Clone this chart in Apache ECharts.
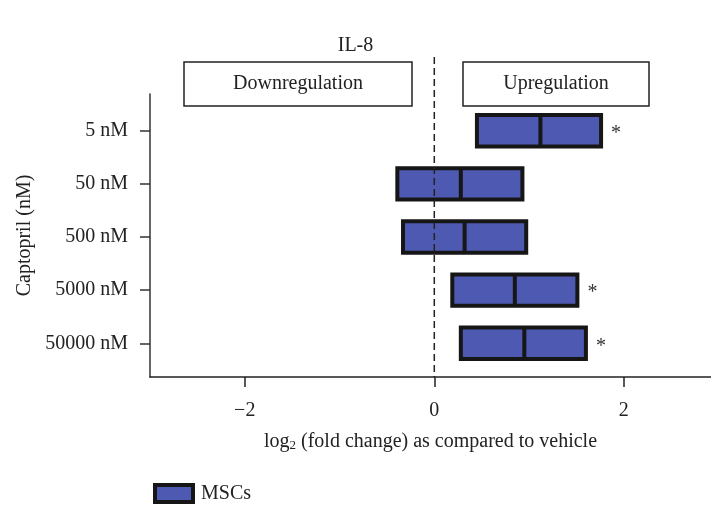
<!DOCTYPE html>
<html>
<head>
<meta charset="utf-8">
<script src="https://cdn.jsdelivr.net/npm/echarts@6/dist/echarts.min.js"></script>
<style>html,body{margin:0;padding:0;background:#fff;}#c{width:711px;height:506px;}</style>
</head>
<body>
<div id="c"></div>
<script>
const categories = ['5 nM', '50 nM', '500 nM', '5000 nM', '50000 nM'];
const lowValues = [0.45, -0.39, -0.33, 0.19, 0.28];
const medianValues = [1.12, 0.28, 0.32, 0.85, 0.95];
const highValues = [1.76, 0.93, 0.97, 1.51, 1.60];
const significance = ['*', '', '', '*', '*'];
const xTicks = [-2, 0, 2];
const yTicks = [0, 1, 2, 3, 4];

const FONT = "'Liberation Serif', 'DejaVu Serif', serif";
const FILL = '#4e5ab1';
const EDGE = '#161616';

const data = categories.map((c, i) => [i, lowValues[i], medianValues[i], highValues[i], significance[i]]);

const chart = echarts.init(document.getElementById('c'), null, {renderer: 'canvas'});

function renderItem(params, api) {
  const y = api.value(0);
  const pLow = api.coord([api.value(1), y]);
  const pMed = api.coord([api.value(2), y]);
  const pHigh = api.coord([api.value(3), y]);
  const h = api.size([0, 0.59])[1];
  const top = pLow[1] - h / 2;
  const sig = significance[y];
  const children = [
    {type: 'rect', shape: {x: pLow[0], y: top, width: pHigh[0] - pLow[0], height: h},
     style: {fill: FILL, stroke: EDGE, lineWidth: 4}},
    {type: 'line', shape: {x1: pMed[0], y1: top, x2: pMed[0], y2: top + h},
     style: {stroke: EDGE, lineWidth: 4}}
  ];
  if (sig) {
    children.push({type: 'text', x: pHigh[0] + 15, y: pLow[1] + 3,
      style: {text: sig, font: '20px ' + FONT, fill: '#333', align: 'center', verticalAlign: 'middle'}});
  }
  return {type: 'group', children: children};
}

const option = {
  animation: false,
  backgroundColor: '#fff',
  title: {
    text: 'IL-8', left: 'center', top: 31,
    textStyle: {fontFamily: FONT, fontSize: 20, fontWeight: 'normal', color: '#222'}
  },
  legend: {
    left: 148, top: 478,
    itemWidth: 38, itemHeight: 17, itemGap: 10,
    textStyle: {fontFamily: FONT, fontSize: 20, color: '#222', padding: [0, 0, 0, 3]},
    data: [{name: 'MSCs', icon: 'rect', itemStyle: {color: FILL, borderColor: EDGE, borderWidth: 4}}]
  },
  grid: {left: 150, right: 0, top: 94, bottom: 129, containLabel: false},
  xAxis: {
    type: 'value', min: -3, max: 2.92,
    axisLine: {show: true, onZero: false, lineStyle: {color: '#222', width: 1.5}},
    axisTick: {show: true, customValues: xTicks, length: 10, lineStyle: {color: '#222', width: 1.5}},
    axisLabel: {customValues: xTicks, margin: 24, fontFamily: FONT, fontSize: 20, color: '#222',
      formatter: v => (v < 0 ? '\u2212' + Math.abs(v) : String(v))},
    splitLine: {show: false},
    name: 'log{sub|2} (fold change) as compared to vehicle',
    nameLocation: 'middle', nameGap: 54,
    nameTextStyle: {fontFamily: FONT, fontSize: 20, color: '#222',
      rich: {sub: {fontFamily: FONT, fontSize: 13, verticalAlign: 'bottom', padding: [8, 0, 0, 0], color: '#222'}}}
  },
  yAxis: {
    type: 'value', inverse: true, min: -0.6906, max: 4.634,
    axisLine: {show: true, onZero: false, lineStyle: {color: '#333', width: 1.5}},
    axisTick: {show: true, customValues: yTicks, length: 10, lineStyle: {color: '#333', width: 1.5}},
    axisLabel: {customValues: yTicks, margin: 22, fontFamily: FONT, fontSize: 20, color: '#222',
      formatter: v => categories[Math.round(v)]},
    splitLine: {show: false},
    name: 'Captopril (nM)', nameLocation: 'middle', nameGap: 114, nameRotate: 90,
    nameTextStyle: {fontFamily: FONT, fontSize: 20, color: '#222'}
  },
  series: [{
    name: 'MSCs', type: 'custom', renderItem: renderItem,
    itemStyle: {color: FILL, borderColor: EDGE, borderWidth: 4},
    encode: {x: [1, 2, 3], y: 0},
    data: data, z: 2
  }]
};
chart.setOption(option);

const x0 = chart.convertToPixel({xAxisIndex: 0}, 0);
const yBottom = chart.convertToPixel({yAxisIndex: 0}, 4.634);
function box(x1, x2, label) {
  return [
    {type: 'rect', shape: {x: x1, y: 62, width: x2 - x1, height: 44},
     style: {fill: '#fff', stroke: '#222', lineWidth: 1.5}, z: 10},
    {type: 'text', x: (x1 + x2) / 2, y: 84,
     style: {text: label, font: '20px ' + FONT, fill: '#222', align: 'center', verticalAlign: 'middle'}, z: 11}
  ];
}
chart.setOption({
  graphic: [
    {type: 'line', shape: {x1: x0, y1: 57, x2: x0, y2: yBottom},
     style: {stroke: '#222', lineWidth: 1.5, lineDash: [7, 4]}, z: 20},
    ...box(184, 412, 'Downregulation'),
    ...box(463, 649, 'Upregulation')
  ]
});
</script>
</body>
</html>
